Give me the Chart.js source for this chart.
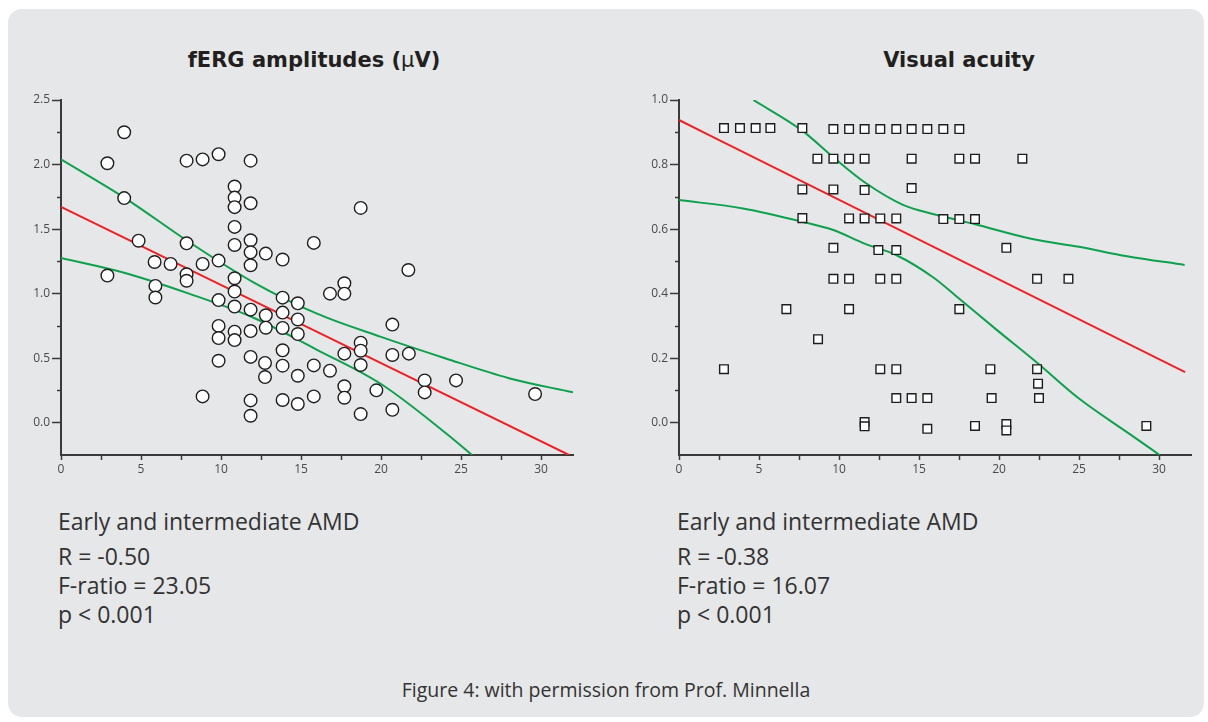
<!DOCTYPE html>
<html>
<head>
<meta charset="utf-8">
<script src="https://cdn.jsdelivr.net/npm/chart.js@4.4.1/dist/chart.umd.min.js"></script>
<style>
  html, body { margin: 0; padding: 0; background: #fff; }
  body { width: 1208px; height: 722px; position: relative; overflow: hidden; font-family: 'Open Sans', sans-serif; }
  .card { position: absolute; left: 8px; top: 9px; width: 1196px; height: 708px; background: #e6e7e8; border-radius: 14px; }
  .title { position: absolute; top: 47px; width: 600px; text-align: center; font-family: 'DejaVu Sans', sans-serif; font-weight: 700; font-size: 21px; line-height: 26px; color: #231f20; }
  .title .mu { font-weight: 400; }
  .plot { position: absolute; top: 90px; width: 580px; height: 400px; }
  .stats { position: absolute; top: 507px; font-size: 23px; line-height: 29px; color: #333; }
  .stats .first { margin-bottom: 6px; }
  .caption { position: absolute; left: 306px; width: 600px; top: 679px; text-align: center; font-size: 19.5px; line-height: 22px; color: #333; }
</style>
</head>
<body>
<div class="card"></div>

<div class="title" style="left:14px">fERG amplitudes (<span class="mu">μ</span>V)</div>
<div class="title" style="left:659px">Visual acuity</div>

<div class="plot" style="left:11px"><canvas id="ferg-chart"></canvas></div>
<div class="plot" style="left:629px"><canvas id="acuity-chart"></canvas></div>

<div class="stats" style="left:58px">
  <div class="first">Early and intermediate AMD</div>
  <div>R = -0.50</div>
  <div>F-ratio = 23.05</div>
  <div>p &lt; 0.001</div>
</div>
<div class="stats" style="left:677px">
  <div class="first">Early and intermediate AMD</div>
  <div>R = -0.38</div>
  <div>F-ratio = 16.07</div>
  <div>p &lt; 0.001</div>
</div>

<div class="caption">Figure 4: with permission from Prof. Minnella</div>

<script>
// fERG amplitude scatter (left)
const fergX = [
    2.9, 3.95, 3.95, 2.9, 4.85, 5.85, 6.85, 5.9, 5.9, 7.85,
    7.85, 8.85, 9.85, 11.85, 7.85, 7.85, 8.85, 9.85, 9.85, 9.85,
    9.85, 9.85, 8.85, 10.85, 10.85, 10.85, 10.85, 10.85, 10.85, 10.85,
    10.85, 10.85, 10.85, 11.85, 11.85, 11.85, 11.85, 11.85, 11.85, 11.85,
    11.85, 11.85, 12.8, 12.8, 12.8, 12.75, 12.75, 13.85, 13.85, 13.85,
    13.85, 13.85, 13.85, 13.85, 14.8, 14.8, 14.8, 14.8, 14.8, 15.8,
    15.8, 15.8, 18.73, 21.71, 17.71, 17.71, 16.81, 20.71, 18.73, 18.73,
    17.71, 20.71, 21.74, 18.73, 16.81, 17.71, 17.71, 19.71, 18.73, 20.71,
    22.73, 22.73, 24.69, 29.63
];
const fergY = [
    2.01, 2.25, 1.74, 1.14, 1.41, 1.245, 1.23, 1.06, 0.97, 1.39,
    2.03, 2.04, 2.08, 2.03, 1.15, 1.10, 1.23, 1.256, 0.95, 0.75,
    0.656, 0.48, 0.204, 1.83, 1.744, 1.67, 1.517, 1.377, 1.119, 1.016,
    0.90, 0.705, 0.64, 1.70, 1.413, 1.32, 1.22, 0.876, 0.71, 0.51,
    0.173, 0.054, 1.31, 0.832, 0.736, 0.463, 0.354, 1.264, 0.969, 0.853,
    0.734, 0.561, 0.442, 0.176, 0.925, 0.80, 0.687, 0.364, 0.145, 1.393,
    0.444, 0.204, 1.664, 1.183, 1.08, 1.0, 1.0, 0.76, 0.62, 0.558,
    0.535, 0.525, 0.535, 0.447, 0.403, 0.282, 0.194, 0.251, 0.067, 0.10,
    0.328, 0.235, 0.328, 0.222
];
const fergFitX = [0, 31.75];
const fergFitY = [1.672, -0.25];
const fergUpperX = [0, 4, 8, 12, 16, 20, 24, 28, 32];
const fergUpperY = [2.04, 1.74, 1.40, 1.09, 0.845, 0.665, 0.50, 0.345, 0.235];
const fergLowerX = [0, 4, 8, 12, 16, 20, 24, 25.7];
const fergLowerY = [1.276, 1.16, 1.0, 0.815, 0.565, 0.30, -0.075, -0.25];
const fergMinorY = [0.25, 0.75, 1.25, 1.75, 2.25];

// Visual acuity scatter (right)
const acuityX = [
    2.81, 3.81, 4.79, 5.71, 7.71, 9.65, 10.63, 11.6, 12.58, 13.58,
    14.54, 15.52, 16.52, 17.52,
    8.65, 9.65, 10.63, 11.6, 14.54, 17.52, 18.5, 21.46,
    7.71, 9.65, 11.6, 14.54,
    7.71, 10.63, 11.6, 12.58, 13.58, 16.52, 17.52, 18.5,
    9.65, 12.46, 13.58, 20.46,
    9.65, 10.63, 12.58, 13.58, 22.38, 24.34,
    6.71, 10.63, 17.52,
    8.69,
    2.81, 12.58, 13.58, 19.46, 22.38,
    22.44,
    13.58, 14.54, 15.52, 19.54, 22.5,
    11.6, 11.6, 15.52, 18.5, 20.46, 20.46, 29.21
];
const acuityY = [
    0.913, 0.913, 0.913, 0.913, 0.913, 0.91, 0.91, 0.91, 0.91, 0.91,
    0.91, 0.91, 0.91, 0.91,
    0.818, 0.818, 0.818, 0.818, 0.818, 0.818, 0.818, 0.818,
    0.723, 0.723, 0.721, 0.727,
    0.634, 0.633, 0.633, 0.633, 0.633, 0.631, 0.631, 0.631,
    0.542, 0.535, 0.535, 0.542,
    0.446, 0.446, 0.446, 0.446, 0.446, 0.446,
    0.352, 0.352, 0.352,
    0.259,
    0.166, 0.166, 0.166, 0.166, 0.166,
    0.121,
    0.0765, 0.0765, 0.0765, 0.0765, 0.0765,
    0.002, -0.011, -0.019, -0.01, -0.004, -0.024, -0.01
];
const acuityFitX = [0, 31.63];
const acuityFitY = [0.938, 0.157];
const acuityUpperX = [4.65, 7.7, 9.7, 11.6, 14, 16, 18.5, 22, 25, 28, 31.6];
const acuityUpperY = [1.0, 0.905, 0.82, 0.745, 0.675, 0.645, 0.615, 0.57, 0.545, 0.516, 0.489];
const acuityLowerX = [0, 4, 7.7, 9.65, 11.6, 13.6, 15.9, 17.5, 19.8, 22.4, 25, 28.2, 30.04];
const acuityLowerY = [0.69, 0.664, 0.623, 0.597, 0.555, 0.519, 0.45, 0.385, 0.29, 0.185, 0.075, -0.036, -0.1];
const acuityMinorY = [0.1, 0.3, 0.5, 0.7, 0.9];

const AXIS_COLOR = '#3a3a3a';
const RED = '#ec2227';
const GREEN = '#0ea14d';
const TICK_FONT = { family: "'Open Sans', sans-serif", size: 12 };

// zip two arrays into {x, y} points
function toPoints(xs, ys) {
    return xs.map((x, i) => ({ x: x, y: ys[i] }));
}

// short minor ticks on the y axis
const minorTicks = {
    id: 'minorTicks',
    afterDraw(chart, args, opts) {
        const scale = chart.scales.y;
        const ctx = chart.ctx;
        ctx.save();
        ctx.strokeStyle = AXIS_COLOR;
        ctx.lineWidth = 1.5;
        (opts.values || []).forEach(v => {
            const py = Math.round(scale.getPixelForValue(v)) + 0.5;
            ctx.beginPath();
            ctx.moveTo(scale.right - 4, py);
            ctx.lineTo(scale.right, py);
            ctx.stroke();
        });
        ctx.restore();
    }
};

function lineSet(xs, ys, color, order) {
    return {
        data: toPoints(xs, ys),
        showLine: true,
        borderColor: color,
        borderWidth: 2,
        pointRadius: 0,
        cubicInterpolationMode: 'monotone',
        order: order
    };
}

function makeChart(id, cfg) {
    const ctx = document.getElementById(id).getContext('2d');
    return new Chart(ctx, {
        type: 'scatter',
        data: {
            datasets: [
                {
                    data: toPoints(cfg.x, cfg.y),
                    pointStyle: cfg.pointStyle,
                    pointRadius: cfg.pointRadius,
                    backgroundColor: '#ffffff',
                    borderColor: '#1e1e1e',
                    borderWidth: 1.4,
                    order: 0
                },
                lineSet(cfg.upperX, cfg.upperY, GREEN, 2),
                lineSet(cfg.lowerX, cfg.lowerY, GREEN, 2),
                lineSet(cfg.fitX, cfg.fitY, RED, 1)
            ]
        },
        options: {
            responsive: true,
            maintainAspectRatio: false,
            animation: false,
            layout: { padding: { top: 10, right: 18, bottom: 0, left: 0 } },
            plugins: {
                legend: { display: false },
                tooltip: { enabled: false },
                minorTicks: { values: cfg.minorY }
            },
            scales: {
                x: {
                    type: 'linear',
                    min: 0,
                    max: 32,
                    afterFit: s => { s.height = 35; },
                    ticks: {
                        stepSize: 2.5,
                        includeBounds: false,
                        maxRotation: 0,
                        autoSkip: false,
                        color: '#4a4a4a',
                        font: TICK_FONT,
                        padding: 2,
                        callback: v => (v % 5 === 0 ? String(v) : '')
                    },
                    grid: { drawOnChartArea: false, tickLength: 5, tickColor: AXIS_COLOR, tickWidth: 1.5 },
                    border: { color: AXIS_COLOR, width: 2 }
                },
                y: {
                    type: 'linear',
                    min: cfg.yMin,
                    max: cfg.yMax,
                    afterFit: s => { s.width = 50; },
                    ticks: {
                        stepSize: cfg.yStep,
                        includeBounds: false,
                        autoSkip: false,
                        color: '#4a4a4a',
                        font: TICK_FONT,
                        padding: 2,
                        callback: v => Number(v).toFixed(1)
                    },
                    grid: { drawOnChartArea: false, tickLength: 9, tickColor: AXIS_COLOR, tickWidth: 1.5 },
                    border: { color: AXIS_COLOR, width: 2 }
                }
            }
        },
        plugins: [minorTicks]
    });
}

makeChart('ferg-chart', {
    x: fergX, y: fergY,
    fitX: fergFitX, fitY: fergFitY,
    upperX: fergUpperX, upperY: fergUpperY,
    lowerX: fergLowerX, lowerY: fergLowerY,
    minorY: fergMinorY,
    pointStyle: 'circle', pointRadius: 6.3,
    yMin: -0.25, yMax: 2.5, yStep: 0.5
});

makeChart('acuity-chart', {
    x: acuityX, y: acuityY,
    fitX: acuityFitX, fitY: acuityFitY,
    upperX: acuityUpperX, upperY: acuityUpperY,
    lowerX: acuityLowerX, lowerY: acuityLowerY,
    minorY: acuityMinorY,
    pointStyle: 'rect', pointRadius: 6.1,
    yMin: -0.1, yMax: 1.0, yStep: 0.2
});
</script>
</body>
</html>
